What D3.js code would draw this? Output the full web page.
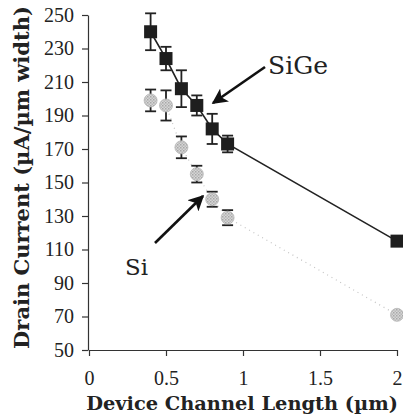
<!DOCTYPE html>
<html>
<head>
<meta charset="utf-8">
<script src="https://cdn.jsdelivr.net/npm/d3@7"></script>
<style>
  body { margin: 0; background: #fff; }
  svg { display: block; }
  svg text { font-family: "Liberation Serif", "Times New Roman", serif; }
  svg text.wide { font-family: "DejaVu Serif", serif; }
</style>
</head>
<body>
<div id="chart"></div>
<script>
// channel length (um)
const lengths = [0.4, 0.5, 0.6, 0.7, 0.8, 0.9, 2]
// drain current, SiGe devices
const sigeCurrent = [240, 224, 206, 196, 182, 173, 115]
const sigeError   = [11, 7, 11, 6, 9, 5, 0]
// drain current, Si devices
const siCurrent = [199, 196, 171, 155, 140, 129, 71]
const siError   = [6.5, 9, 6.5, 5, 4.5, 4.5, 0]

const xTicks = [0, 0.5, 1, 1.5, 2]
const yTicks = [50, 70, 90, 110, 130, 150, 170, 190, 210, 230, 250]

const W = 403, H = 415
const svg = d3.select('#chart').append('svg')
  .attr('width', W)
  .attr('height', H)

const x = d3.scaleLinear().domain([0, 2]).range([89, 397])
const y = d3.scaleLinear().domain([50, 250]).range([350, 15])

// shrink/grow a text until it spans the given length
function fit(sel, len) {
  const n = sel.node()
  const fs = +sel.attr('font-size')
  sel.attr('font-size', fs * len / n.getComputedTextLength())
}

// pattern for the speckled grey Si markers
const defs = svg.append('defs')
const pat = defs.append('pattern')
  .attr('id', 'speckle')
  .attr('width', 3).attr('height', 3)
  .attr('patternUnits', 'userSpaceOnUse')
pat.append('rect').attr('width', 3).attr('height', 3).attr('fill', '#d6d6d6')
pat.append('rect').attr('width', 1.5).attr('height', 1.5).attr('fill', '#a8a8a8')
pat.append('rect').attr('x', 1.5).attr('y', 1.5).attr('width', 1.5).attr('height', 1.5).attr('fill', '#b8b8b8')

defs.append('marker')
  .attr('id', 'head')
  .attr('viewBox', '0 0 10 10')
  .attr('refX', 9).attr('refY', 5)
  .attr('markerWidth', 6).attr('markerHeight', 6)
  .attr('markerUnits', 'strokeWidth')
  .attr('orient', 'auto')
  .append('path')
  .attr('d', 'M0,0 L10,5 L0,10 L2.5,5 Z')
  .attr('fill', '#111')

// axes
const xAxis = svg.append('g')
  .attr('transform', `translate(0,${y(50)})`)
  .call(d3.axisBottom(x).tickValues(xTicks).tickFormat(d3.format('')).tickSize(6).tickSizeOuter(0))
xAxis.attr('font-family', null)
xAxis.select('.domain').attr('stroke', '#333').attr('stroke-width', 1.2)
xAxis.selectAll('.tick line').attr('stroke', '#333').attr('stroke-width', 1.2)
xAxis.selectAll('.tick text')
  .attr('font-size', 20)
  .attr('fill', '#222')
  .attr('y', 35)
  .attr('dy', 0)

const yAxis = svg.append('g')
  .attr('transform', `translate(${x(0) - 1},0)`)
  .call(d3.axisLeft(y).tickValues(yTicks).tickSize(6).tickSizeOuter(0))
yAxis.attr('font-family', null)
yAxis.select('.domain').attr('stroke', '#333').attr('stroke-width', 1.2)
yAxis.selectAll('.tick line').attr('stroke', '#333').attr('stroke-width', 1.2)
yAxis.selectAll('.tick text')
  .attr('font-size', 20)
  .attr('fill', '#222')
  .attr('x', -14)

// axis titles
const xTitle = svg.append('text')
  .attr('class', 'wide')
  .attr('x', 242).attr('y', 410)
  .attr('text-anchor', 'middle')
  .attr('font-size', 19)
  .attr('font-weight', 'bold')
  .attr('fill', '#222')
  .text('Device Channel Length (µm)')
fit(xTitle, 312)

const yTitle = svg.append('text')
  .attr('class', 'wide')
  .attr('transform', `translate(29,${(5 + 350) / 2}) rotate(-90)`)
  .attr('text-anchor', 'middle')
  .attr('font-size', 19)
  .attr('font-weight', 'bold')
  .attr('fill', '#222')
  .text('Drain Current (µA/µm width)')
fit(yTitle, 343)

const line = d3.line().x(d => x(d[0])).y(d => y(d[1]))

// Si: faint dotted line
svg.append('path')
  .datum(lengths.map((l, i) => [l, siCurrent[i]]))
  .attr('d', line)
  .attr('fill', 'none')
  .attr('stroke', '#c4c4c4')
  .attr('stroke-width', 1.2)
  .attr('stroke-dasharray', '1,4')

// SiGe: solid line
svg.append('path')
  .datum(lengths.map((l, i) => [l, sigeCurrent[i]]))
  .attr('d', line)
  .attr('fill', 'none')
  .attr('stroke', '#222')
  .attr('stroke-width', 1.6)

function errorBars(vals, errs) {
  const g = svg.append('g').attr('stroke', '#222').attr('stroke-width', 1.8)
  lengths.forEach((l, i) => {
    if (!errs[i]) return
    const cx = x(l), top = y(vals[i] + errs[i]), bot = y(vals[i] - errs[i])
    g.append('line').attr('x1', cx).attr('x2', cx).attr('y1', top).attr('y2', bot)
    g.append('line').attr('x1', cx - 5.5).attr('x2', cx + 5.5).attr('y1', top).attr('y2', top)
    g.append('line').attr('x1', cx - 5.5).attr('x2', cx + 5.5).attr('y1', bot).attr('y2', bot)
  })
}

errorBars(siCurrent, siError)
svg.append('g').selectAll('circle')
  .data(lengths.map((l, i) => [l, siCurrent[i]]))
  .enter().append('circle')
  .attr('cx', d => x(d[0]))
  .attr('cy', d => y(d[1]))
  .attr('r', 6.5)
  .attr('fill', 'url(#speckle)')
  .attr('stroke', '#b8b8b8')
  .attr('stroke-width', 0.8)

errorBars(sigeCurrent, sigeError)
svg.append('g').selectAll('rect')
  .data(lengths.map((l, i) => [l, sigeCurrent[i]]))
  .enter().append('rect')
  .attr('x', d => x(d[0]) - 6.5)
  .attr('y', d => y(d[1]) - 6.5)
  .attr('width', 13)
  .attr('height', 13)
  .attr('fill', '#1e1e1e')

// annotations
svg.append('line')
  .attr('x1', 265).attr('y1', 67)
  .attr('x2', 213).attr('y2', 103)
  .attr('stroke', '#111')
  .attr('stroke-width', 2.6)
  .attr('marker-end', 'url(#head)')
const sigeLabel = svg.append('text')
  .attr('class', 'wide')
  .attr('x', 268).attr('y', 74)
  .attr('font-size', 24)
  .attr('fill', '#222')
  .text('SiGe')
fit(sigeLabel, 60)

svg.append('line')
  .attr('x1', 155).attr('y1', 243)
  .attr('x2', 203).attr('y2', 196)
  .attr('stroke', '#111')
  .attr('stroke-width', 2.6)
  .attr('marker-end', 'url(#head)')
const siLabel = svg.append('text')
  .attr('class', 'wide')
  .attr('x', 125).attr('y', 275)
  .attr('font-size', 24)
  .attr('fill', '#222')
  .text('Si')
fit(siLabel, 23)
</script>
</body>
</html>
